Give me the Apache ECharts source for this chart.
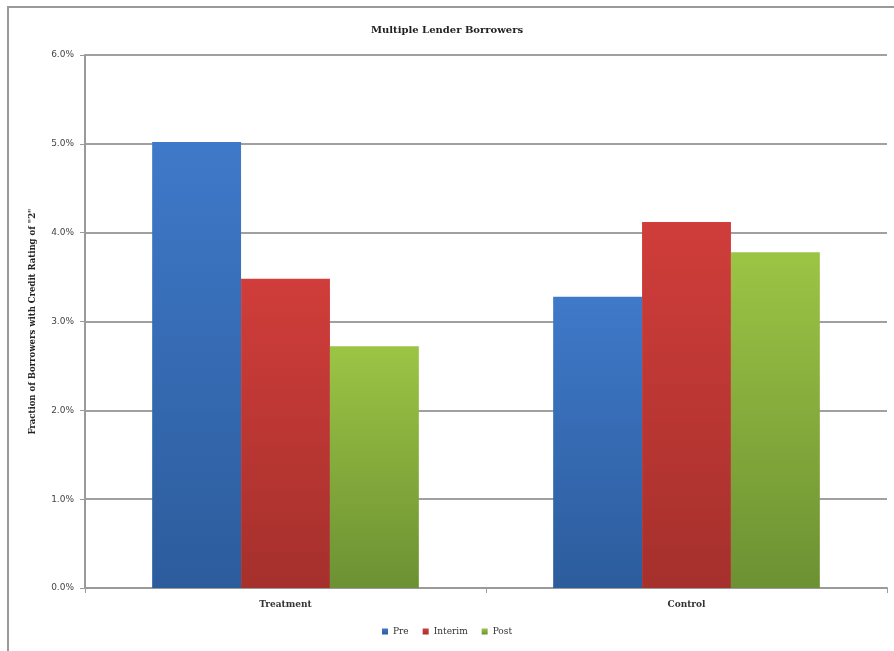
<!DOCTYPE html>
<html><head><meta charset="utf-8">
<script src="https://cdn.jsdelivr.net/npm/echarts@6/dist/echarts.min.js"></script>
<style>html,body{margin:0;padding:0;background:#fff}#c{width:894px;height:651px}</style>
</head><body><div id="c"></div>
<script>
const categories = ['Treatment', 'Control'];
const seriesNames = ['Pre', 'Interim', 'Post'];
const preValues = [5.02, 3.28];
const interimValues = [3.48, 4.12];
const postValues = [2.72, 3.78];
const yTicks = [0, 1, 2, 3, 4, 5, 6];

const colors = [
  ['#3f79c9', '#2c5c9c'],
  ['#d03d3a', '#a5302c'],
  ['#9cc444', '#6c9133']
];
function grad(c){
  return new echarts.graphic.LinearGradient(0,0,0,1,[{offset:0,color:c[0]},{offset:1,color:c[1]}]);
}
const chart = echarts.init(document.getElementById('c'));
const vals = [preValues, interimValues, postValues];
chart.setOption({
  animation:false,
  backgroundColor:'#fff',
  graphic:[{type:'rect',shape:{x:8,y:7,width:900,height:660},style:{fill:'none',stroke:'#9a9a9a',lineWidth:2},silent:true}],
  title:{text:'Multiple Lender Borrowers',left:'center',top:20,textStyle:{fontFamily:'DejaVu Serif',fontSize:10,fontWeight:'bold',color:'#222'}},
  legend:{data:seriesNames,bottom:10,left:'center',itemWidth:6,itemHeight:6,itemGap:14,icon:'rect',textStyle:{fontFamily:'DejaVu Serif',fontSize:9,color:'#333'}},
  grid:{left:85,right:7,top:55,bottom:63,containLabel:false},
  xAxis:{type:'category',data:categories,
    axisLine:{lineStyle:{color:'#9a9a9a',width:2}},
    axisTick:{show:true,length:5,lineStyle:{color:'#9a9a9a'}},
    axisLabel:{fontFamily:'DejaVu Serif',fontSize:9,fontWeight:'bold',color:'#333',margin:12}},
  yAxis:{type:'value',min:0,max:6,interval:1,
    name:'Fraction of Borrowers with Credit Rating of "2"',nameLocation:'middle',nameGap:48,
    nameTextStyle:{fontFamily:'DejaVu Serif',fontSize:8.5,fontWeight:'bold',color:'#222'},
    axisLine:{show:true,lineStyle:{color:'#9a9a9a',width:2}},
    axisTick:{show:true,length:5,lineStyle:{color:'#9a9a9a'}},
    splitLine:{lineStyle:{color:'#a0a0a0',width:2}},
    axisLabel:{fontFamily:'DejaVu Sans',fontSize:9,color:'#444',margin:11,formatter:v=>yTicks.includes(v)?v.toFixed(1)+'%':''}},
  series: seriesNames.map((n,i)=>({
    name:n,type:'bar',data:vals[i],barGap:'0%',barCategoryGap:'33.5%',
    itemStyle:{color:grad(colors[i])}
  }))
});
</script></body></html>
